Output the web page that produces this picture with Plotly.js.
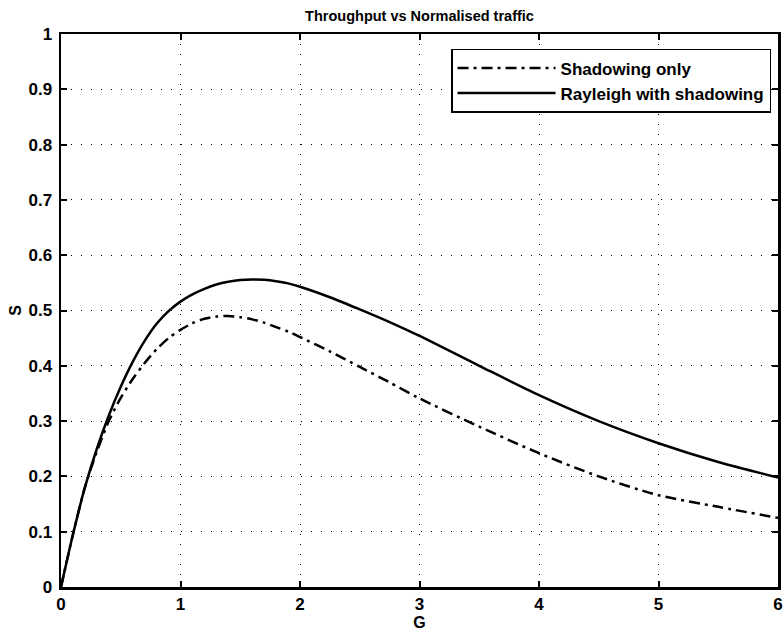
<!DOCTYPE html>
<html>
<head>
<meta charset="utf-8">
<script src="https://cdn.plot.ly/plotly-3.0.1.min.js"></script>
<style>html,body{margin:0;padding:0;background:#fff;}#chart{width:783px;height:631px;}</style>
</head>
<body>
<div id="chart"></div>
<script>
var G = [0, 0.1, 0.2, 0.3, 0.4, 0.5, 0.6, 0.7, 0.8, 0.9, 1.0, 1.1, 1.2, 1.3, 1.4, 1.5, 1.6, 1.7, 1.8, 1.9, 2.0, 2.25, 2.5, 2.75, 3.0, 3.5, 4.0, 4.5, 5.0, 5.5, 6.0];
var shadowingOnly = [0, 0.095, 0.18, 0.245, 0.30, 0.342, 0.376, 0.405, 0.43, 0.45, 0.465, 0.477, 0.485, 0.489, 0.49, 0.488, 0.484, 0.478, 0.47, 0.462, 0.452, 0.426, 0.398, 0.37, 0.341, 0.29, 0.242, 0.2, 0.166, 0.145, 0.125];
var rayleighShadowing = [0, 0.095, 0.18, 0.25, 0.31, 0.362, 0.407, 0.445, 0.476, 0.499, 0.516, 0.529, 0.539, 0.547, 0.552, 0.555, 0.556, 0.5555, 0.553, 0.549, 0.543, 0.524, 0.502, 0.479, 0.454, 0.40, 0.347, 0.30, 0.26, 0.226, 0.198];
var xTicks = [0, 1, 2, 3, 4, 5, 6];
var yTicks = [0, 0.1, 0.2, 0.3, 0.4, 0.5, 0.6, 0.7, 0.8, 0.9, 1];
var yTickText = ['0', '0.1', '0.2', '0.3', '0.4', '0.5', '0.6', '0.7', '0.8', '0.9', '1'];

var fontFam = 'Liberation Sans, Arial, sans-serif';
var narrowFam = 'Liberation Sans Narrow, Liberation Sans, Arial, sans-serif';
var traces = [
  {x: G, y: shadowingOnly, mode: 'lines', name: 'Shadowing only', line: {color: '#000', width: 2.5, dash: '11px,5px,3px,5px', shape: 'spline', smoothing: 0.8}},
  {x: G, y: rayleighShadowing, mode: 'lines', name: 'Rayleigh with shadowing', line: {color: '#000', width: 2.5, shape: 'spline', smoothing: 0.8}}
];
var axisCommon = {
  showline: true, mirror: 'ticks', linecolor: '#000', linewidth: 2.5,
  ticks: 'inside', ticklen: 6, tickwidth: 2, tickcolor: '#000',
  showgrid: true, gridcolor: '#000', gridwidth: 1, griddash: '1px,9px',
  zeroline: false,
  tickfont: {family: narrowFam, size: 17, color: '#000', weight: 'bold'}
};
var layout = {
  width: 783, height: 631,
  margin: {l: 61, r: 5, t: 34, b: 44},
  paper_bgcolor: '#fff', plot_bgcolor: '#fff',
  showlegend: true,
  title: {text: 'Throughput vs Normalised traffic', x: 0.5, xref: 'paper', y: 0.975, yref: 'container', yanchor: 'middle',
    font: {family: fontFam, size: 14.5, color: '#000', weight: 'bold'}},
  xaxis: Object.assign({}, axisCommon, {range: [0, 6], tickvals: xTicks, ticktext: xTicks.map(String), ticklabelstandoff: 0,
    title: {text: 'G', standoff: 0, font: {family: fontFam, size: 16, color: '#000', weight: 'bold'}}}),
  yaxis: Object.assign({}, axisCommon, {range: [0, 1], tickvals: yTicks, ticktext: yTickText, ticklabelstandoff: 3,
    title: {text: 'S', standoff: 3, font: {family: fontFam, size: 16, color: '#000', weight: 'bold'}}}),
  legend: {x: 0.544, y: 0.973, xanchor: 'left', yanchor: 'top', bgcolor: '#fff', bordercolor: '#000', borderwidth: 1.5,
    itemwidth: 98, tracegroupgap: 0,
    font: {family: fontFam, size: 17, color: '#000', weight: 'bold'}}
};
Plotly.newPlot('chart', traces, layout, {displayModeBar: false, staticPlot: true});
</script>
</body>
</html>
